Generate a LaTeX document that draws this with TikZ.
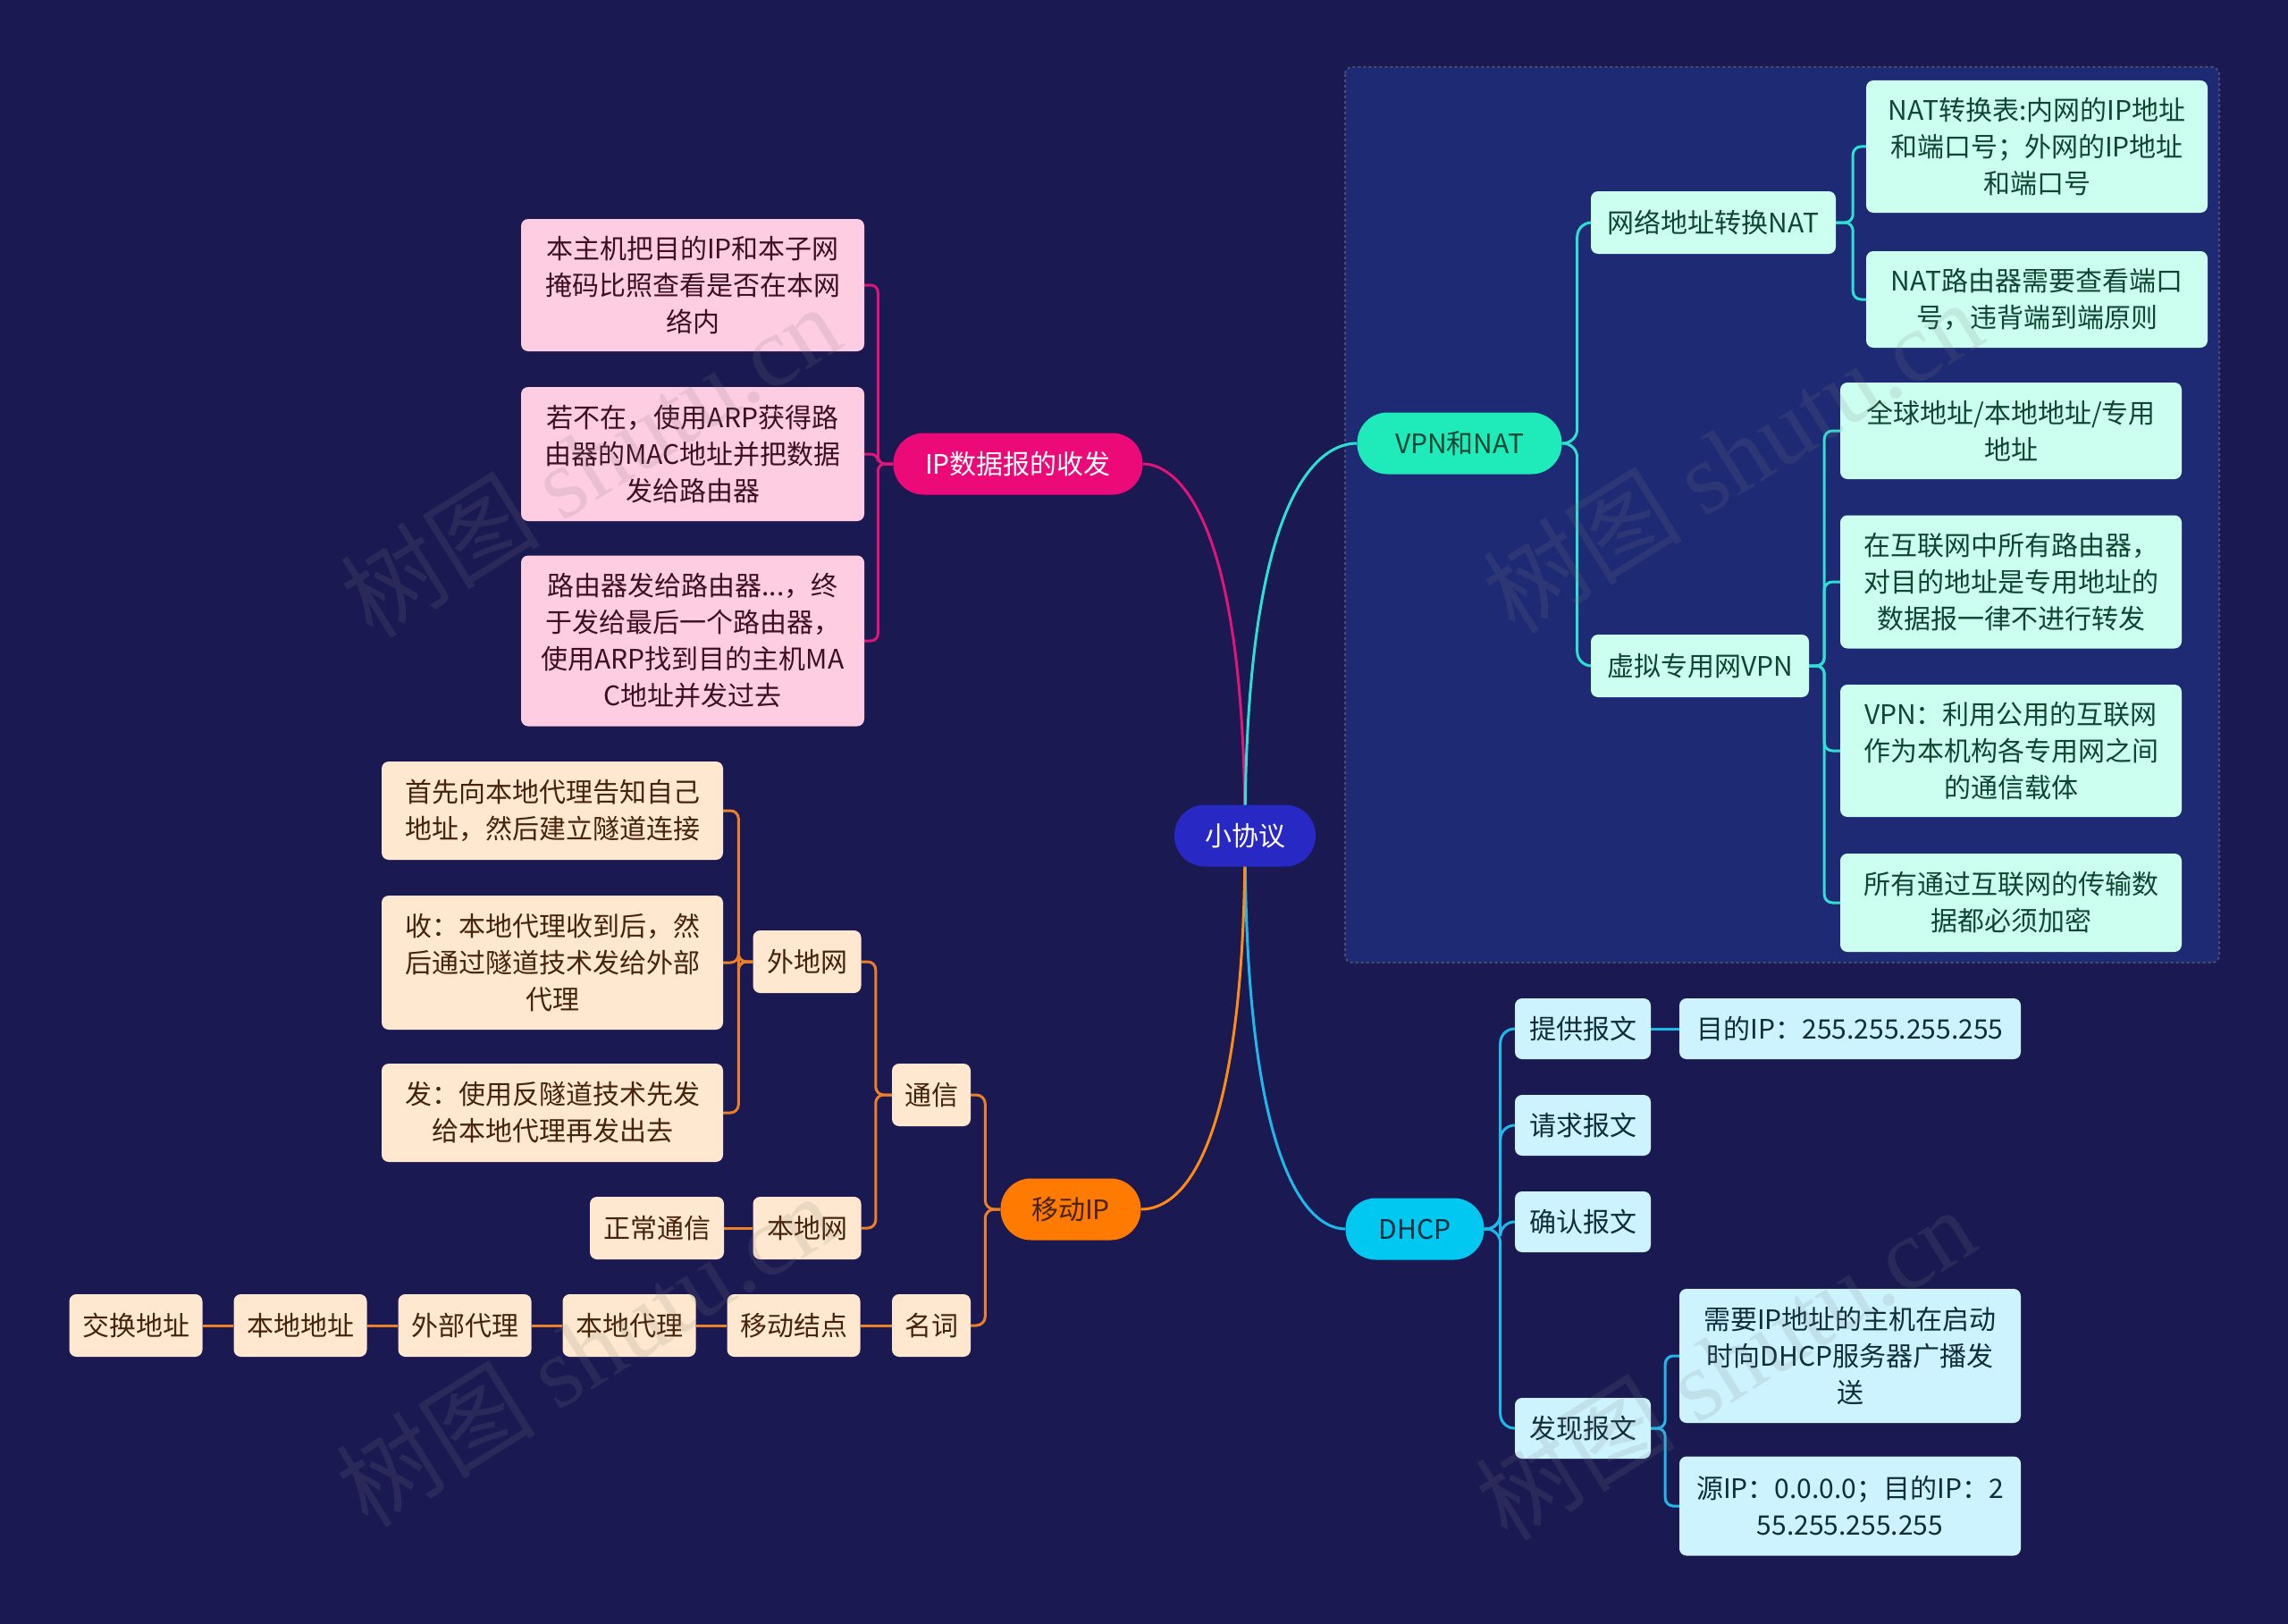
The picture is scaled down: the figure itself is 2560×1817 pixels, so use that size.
\documentclass[tikz,border=0pt]{standalone}
\usepackage{fontspec}
\setmainfont{Noto Sans CJK SC}
\newfontfamily\wmlatin{Liberation Serif}
\pgfdeclarelayer{frame}
\pgfdeclarelayer{edges}
\pgfsetlayers{frame,edges,main}
\definecolor{bgc}{RGB}{26,25,82}
\definecolor{framefill}{RGB}{30,42,115}
\definecolor{frameline}{RGB}{72,78,112}
\definecolor{rootfill}{RGB}{40,40,196}
\definecolor{ipfill}{RGB}{236,10,120}
\definecolor{vnfill}{RGB}{30,235,185}
\definecolor{dhfill}{RGB}{0,200,240}
\definecolor{mifill}{RGB}{255,122,0}
\definecolor{pinkleaf}{RGB}{255,205,225}
\definecolor{pinktext}{RGB}{60,15,35}
\definecolor{mintleaf}{RGB}{205,255,240}
\definecolor{minttext}{RGB}{15,70,50}
\definecolor{cyanleaf}{RGB}{205,243,255}
\definecolor{cyantext}{RGB}{15,45,60}
\definecolor{peachleaf}{RGB}{255,232,207}
\definecolor{peachtext}{RGB}{70,35,10}
\definecolor{pinkline}{RGB}{225,20,120}
\definecolor{tealline}{RGB}{45,225,210}
\definecolor{cyanline}{RGB}{30,185,235}
\definecolor{orangeline}{RGB}{255,140,20}
\definecolor{orangesub}{RGB}{235,128,40}
\begin{document}
\begin{tikzpicture}[x=1pt,y=-1pt,
  every node/.style={font=\fontsize{30}{41}\selectfont, align=center, inner sep=0pt},
  mainbox/.style={rounded corners=34pt, minimum height=69pt},
  leafbox/.style={rounded corners=8pt, minimum height=69pt},
  pinkbox/.style={leafbox, fill=pinkleaf, text=pinktext, minimum width=384pt},
  mintbox/.style={leafbox, fill=mintleaf, text=minttext},
  cyanbox/.style={leafbox, fill=cyanleaf, text=cyantext},
  peachbox/.style={leafbox, fill=peachleaf, text=peachtext},
  edge/.style={line width=3pt},
  wm/.style={rotate=32, text=gray, opacity=0.16, font=\fontsize{112}{116}\selectfont}
]
\useasboundingbox (0,0) rectangle (2560,1817);
\begin{pgfonlayer}{frame}
  \fill[bgc] (0,0) rectangle (2560,1817);
  \filldraw[fill=framefill, draw=frameline, line width=2pt, dashed, rounded corners=8pt] (1505,75) rectangle (2483,1077);
\end{pgfonlayer}

% root and main branches
\node[mainbox, fill=rootfill, text=white, minimum width=158pt] (root) at (1393,935) {小协议};
\node[mainbox, fill=ipfill, text=white, minimum width=279pt] (ip) at (1139,519) {IP数据报的收发};
\node[mainbox, fill=vnfill, text=minttext, minimum width=229pt] (vn) at (1633,496) {VPN和NAT};
\node[mainbox, fill=dhfill, text=cyantext, minimum width=155pt] (dh) at (1583,1375) {DHCP};
\node[mainbox, fill=mifill, text=peachtext, minimum width=157pt] (mi) at (1198,1353) {移动IP};

% IP branch leaves
\node[pinkbox, minimum height=148pt] (p1) at (775,319) {本主机把目的IP和本子网\\掩码比照查看是否在本网\\络内};
\node[pinkbox, minimum height=150pt] (p2) at (775,508) {若不在，使用ARP获得路\\由器的MAC地址并把数据\\发给路由器};
\node[pinkbox, minimum height=191pt] (p3) at (775,717) {路由器发给路由器...，终\\于发给最后一个路由器，\\使用ARP找到目的主机MA\\C地址并发过去};

% VPN and NAT
\node[mintbox, minimum width=274pt, minimum height=70pt] (nat) at (1917,249) {网络地址转换NAT};
\node[mintbox, minimum width=244pt, minimum height=70pt] (vpn) at (1902,745) {虚拟专用网VPN};
\node[mintbox, minimum width=382pt, minimum height=148pt] (n1) at (2279,164) {NAT转换表:内网的IP地址\\和端口号；外网的IP地址\\和端口号};
\node[mintbox, minimum width=382pt, minimum height=108pt] (n2) at (2279,335) {NAT路由器需要查看端口\\号，违背端到端原则};
\node[mintbox, minimum width=382pt, minimum height=108pt] (v1) at (2250,482) {全球地址/本地地址/专用\\地址};
\node[mintbox, minimum width=382pt, minimum height=149pt] (v2) at (2250,651) {在互联网中所有路由器，\\对目的地址是专用地址的\\数据报一律不进行转发};
\node[mintbox, minimum width=382pt, minimum height=148pt] (v3) at (2250,840) {VPN：利用公用的互联网\\作为本机构各专用网之间\\的通信载体};
\node[mintbox, minimum width=382pt, minimum height=110pt] (v4) at (2250,1010) {所有通过互联网的传输数\\据都必须加密};

% DHCP
\node[cyanbox, minimum width=152pt, minimum height=68pt] (d1) at (1771,1151) {提供报文};
\node[cyanbox, minimum width=152pt, minimum height=68pt] (d2) at (1771,1259) {请求报文};
\node[cyanbox, minimum width=152pt, minimum height=68pt] (d3) at (1771,1367) {确认报文};
\node[cyanbox, minimum width=152pt, minimum height=68pt] (d4) at (1771,1598) {发现报文};
\node[cyanbox, minimum width=382pt, minimum height=68pt] (d1a) at (2070,1151) {目的IP：255.255.255.255};
\node[cyanbox, minimum width=382pt, minimum height=150pt] (d4a) at (2070,1517) {需要IP地址的主机在启动\\时向DHCP服务器广播发\\送};
\node[cyanbox, minimum width=382pt, minimum height=111pt] (d4b) at (2070,1685) {源IP：0.0.0.0；目的IP：2\\55.255.255.255};

% Mobile IP
\node[peachbox, minimum width=88pt, minimum height=70pt] (c1) at (1042,1225) {通信};
\node[peachbox, minimum width=88pt, minimum height=70pt] (c2) at (1042,1483) {名词};
\node[peachbox, minimum width=121pt, minimum height=70pt] (fw) at (903,1076) {外地网};
\node[peachbox, minimum width=121pt, minimum height=70pt] (lw) at (903,1374) {本地网};
\node[peachbox, minimum width=150pt, minimum height=70pt] (zc) at (735,1374) {正常通信};
\node[peachbox, minimum width=382pt, minimum height=110pt] (f1) at (618,907) {首先向本地代理告知自己\\地址，然后建立隧道连接};
\node[peachbox, minimum width=382pt, minimum height=150pt] (f2) at (618,1077) {收：本地代理收到后，然\\后通过隧道技术发给外部\\代理};
\node[peachbox, minimum width=382pt, minimum height=110pt] (f3) at (618,1245) {发：使用反隧道技术先发\\给本地代理再发出去};
\node[peachbox, minimum width=149pt, minimum height=70pt] (m1) at (888,1483) {移动结点};
\node[peachbox, minimum width=149pt, minimum height=70pt] (m2) at (704,1483) {本地代理};
\node[peachbox, minimum width=149pt, minimum height=70pt] (m3) at (520,1483) {外部代理};
\node[peachbox, minimum width=149pt, minimum height=70pt] (m4) at (336,1483) {本地地址};
\node[peachbox, minimum width=149pt, minimum height=70pt] (m5) at (152,1483) {交换地址};

\begin{pgfonlayer}{edges}
  % root curves
  \draw[edge, pinkline] (root.center) .. controls (1393,560) and (1310,519) .. (ip.east);
  \draw[edge, tealline] (root.center) .. controls (1393,545) and (1478,496) .. (vn.west);
  \draw[edge, cyanline] (root.center) .. controls (1393,1325) and (1470,1375) .. (dh.west);
  \draw[edge, orangeline] (root.center) .. controls (1393,1320) and (1310,1353) .. (mi.east);
  % IP branch
  \foreach \c in {p1,p2,p3}
    \draw[edge, pinkline, rounded corners=8pt] (ip.west) -- ++(-17,0) |- (\c.east);
  % VPN and NAT
  \foreach \c in {nat,vpn}
    \draw[edge, tealline, rounded corners=16pt] (vn.east) -- ++(17,0) |- (\c.west);
  \foreach \c in {n1,n2}
    \draw[edge, tealline, rounded corners=9pt] (nat.east) -- ++(19,0) |- (\c.west);
  \foreach \c in {v1,v2,v3,v4}
    \draw[edge, tealline, rounded corners=9pt] (vpn.east) -- ++(17,0) |- (\c.west);
  % DHCP
  \foreach \c in {d1,d2,d3,d4}
    \draw[edge, cyanline, rounded corners=16pt] (dh.east) -- ++(18,0) |- (\c.west);
  \draw[edge, cyanline] (d1.east) -- (d1a.west);
  \foreach \c in {d4a,d4b}
    \draw[edge, cyanline, rounded corners=9pt] (d4.east) -- ++(16,0) |- (\c.west);
  % Mobile IP
  \foreach \c in {c1,c2}
    \draw[edge, orangesub, rounded corners=10pt] (mi.west) -- ++(-17,0) |- (\c.east);
  \foreach \c in {fw,lw}
    \draw[edge, orangesub, rounded corners=9pt] (c1.west) -- ++(-18,0) |- (\c.east);
  \foreach \c in {f1,f2,f3}
    \draw[edge, orangesub, rounded corners=9pt] (fw.west) -- ++(-16,0) |- (\c.east);
  \draw[edge, orangesub] (lw.west) -- (zc.east);
  \draw[edge, orangesub] (c2.west) -- (m1.east);
  \draw[edge, orangesub] (m1.west) -- (m2.east);
  \draw[edge, orangesub] (m2.west) -- (m3.east);
  \draw[edge, orangesub] (m3.west) -- (m4.east);
  \draw[edge, orangesub] (m4.west) -- (m5.east);
\end{pgfonlayer}

% watermarks
\node[wm] (w1) at (660,515) {树图 {\wmlatin shutu.cn}};
\node[wm] (w2) at (1938,510) {树图 {\wmlatin shutu.cn}};
\node[wm] (w3) at (655,1510) {树图 {\wmlatin shutu.cn}};
\node[wm] (w4) at (1930,1525) {树图 {\wmlatin shutu.cn}};
\end{tikzpicture}
\end{document}
